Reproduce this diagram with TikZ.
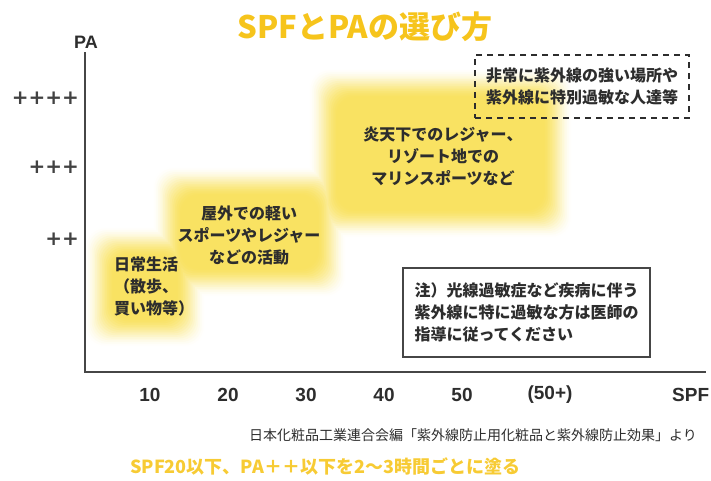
\documentclass[tikz,border=0pt]{standalone}
\usepackage{fontspec}
\setmainfont{Noto Sans CJK JP}
\newfontfamily\latinbold{Liberation Sans}
\newfontfamily\plusfont{DejaVu Sans}
\definecolor{blobY}{RGB}{249,226,98}
\definecolor{titleY}{RGB}{246,196,28}
\definecolor{bottomY}{RGB}{247,203,52}
\definecolor{txt}{RGB}{45,45,45}
\definecolor{axisC}{RGB}{70,70,70}
\tikzset{
  body/.style={font=\bfseries\fontsize{16}{22}\selectfont, text=txt, inner sep=0pt},
  numlbl/.style={font=\latinbold\bfseries\fontsize{19}{22}\selectfont, text=txt, inner sep=0pt},
  pluslbl/.style={font=\plusfont\bfseries\fontsize{20}{22}\selectfont, text=txt!90, inner sep=0pt, anchor=east},
  axisline/.style={draw=axisC, line width=2pt},
  dashbox/.style={draw=txt, line width=2.2pt, dash pattern=on 6pt off 5pt, inner sep=0pt},
  notebox/.style={draw=axisC, line width=1.8pt, inner xsep=11.5pt, inner ysep=0pt},
}
\begin{document}
\begin{tikzpicture}[x=1pt,y=-1pt]
\useasboundingbox (0,0) rectangle (711,480);
% fuzzy yellow blobs, drawn layer by layer so overlaps merge
\foreach \k in {0,...,17} {
  \pgfmathsetmacro\ins{-14+1.7*\k}
  \pgfmathsetmacro\t{(\k+1)/18}
  \pgfmathsetmacro\pc{100*\t*\t*(3-2*\t)}
  \foreach \xa/\ya/\xb/\yb in {99/241/191/333, 167/181/332/283, 323/83/558/224} {
    \fill[blobY!\pc!white, rounded corners=18pt]
      ({\xa+\ins},{\ya+\ins}) rectangle ({\xb-\ins},{\yb-\ins});
  }
}
% title
\node[font=\bfseries\fontsize{31}{34}\selectfont, text=titleY, inner sep=0pt] (title) at (365,27) {SPFとPAの選び方};
% axes
\coordinate (O) at (85,372);
\coordinate (ytop) at (85,52);
\coordinate (xend) at (706,372);
\draw[axisline] (ytop) -- (O) -- (xend);
\node[font=\latinbold\bfseries\fontsize{18}{20}\selectfont, text=txt, inner sep=0pt] (pa) at (86,42) {PA};
\node[pluslbl] (p4) at (79,98) {++++};
\node[pluslbl] (p3) at (79,167) {+++};
\node[pluslbl] (p2) at (79,239) {++};
\node[numlbl] (s10) at (150,395) {10};
\node[numlbl] (s20) at (228,395) {20};
\node[numlbl] (s30) at (306,395) {30};
\node[numlbl] (s40) at (384,395) {40};
\node[numlbl] (s50) at (462,395) {50};
\node[numlbl] (s50p) at (550,395) {(50+)};
\node[numlbl, anchor=west] (spf) at (672,395) {SPF};
% blob texts
\node[body, align=left, anchor=west] (daily) at (114,286) {日常生活\\（散歩、\\買い物等）};
\node[body, align=center] (outdoor) at (249,235) {屋外での軽い\\スポーツやレジャー\\などの活動};
\node[body, align=center] (hot) at (443,156) {炎天下でのレジャー、\\リゾート地での\\マリンスポーツなど};
% dashed box
\node[body, dashbox, align=center, minimum width=214pt, minimum height=63pt] (extreme) at (582,86.5) {非常に紫外線の強い場所や\\紫外線に特別過敏な人達等};
% note box
\node[body, notebox, text width=224pt, align=left, minimum height=89pt] (note) at (526.5,312.5) {注）光線過敏症など疾病に伴う\\紫外線に特に過敏な方は医師の\\指導に従ってください};
% source
\node[font=\fontsize{14}{16}\selectfont, text=txt, inner sep=0pt, anchor=east] (src) at (697,435) {日本化粧品工業連合会編「紫外線防止用化粧品と紫外線防止効果」より};
% bottom advice
\node[font=\bfseries\fontsize{18}{20}\selectfont, text=bottomY, inner sep=0pt, anchor=west] (advice) at (130,466) {SPF20以下、PA＋＋以下を2～3時間ごとに塗る};
\end{tikzpicture}
\end{document}
